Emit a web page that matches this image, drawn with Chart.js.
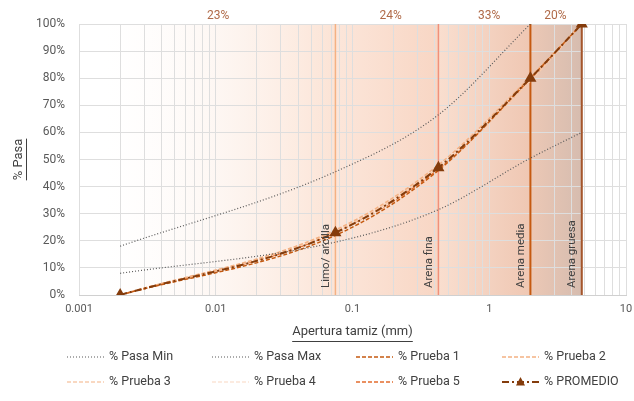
<!DOCTYPE html>
<html>
<head>
<meta charset="utf-8">
<script src="https://cdn.jsdelivr.net/npm/chart.js@4"></script>
<style>
    body { margin: 0; background: #fff; }
    #wrap { width: 634px; height: 401px; }
</style>
</head>
<body>
<div id="wrap"><canvas id="curveChart" width="634" height="401"></canvas></div>
<script>
// sieve openings (mm) and % passing
const sizes = [0.002, 0.075, 0.425, 2, 4.75];
const pasaMin = [8, 19.5, 31.5, 50.5, 60];
const pasaMax = [18, 45.5, 66.5, 100, null];
const prueba1 = [0, 22, 46, 80, 100];
const prueba2 = [0, 24, 48, 80.5, 100];
const prueba3 = [0, 23.5, 47, 79, 100];
const prueba4 = [0, 22.5, 47.5, 80, 100];
const prueba5 = [0, 23, 46.5, 79.5, 100];
const promedio = [0, 23, 47, 80, 100];

// soil fraction limits
const bandEdges = [0.075, 0.425, 2, 4.75];
const bandNames = ["Limo/ arcilla", "Arena fina", "Arena media", "Arena gruesa"];
const bandColors = ["#f4b183", "#f0907a", "#c55a11", "#a4552b"];
const bandShares = ["23%", "24%", "33%", "20%"];
const shareAt = [0.0104, 0.19, 1.0, 3.05];
const xTickLabels = [0.001, 0.01, 0.1, 1, 10];

const FONT = "Roboto, 'DejaVu Sans', sans-serif";

function toPoints(arr) {
    return sizes.map((s, i) => ({ x: s, y: arr[i] })).filter((p) => p.y !== null);
}

function curve(label, values, color, dash, width) {
    return {
        label: label,
        data: toPoints(values),
        borderColor: color,
        backgroundColor: color,
        borderDash: dash,
        borderWidth: width,
        pointRadius: 0,
        cubicInterpolationMode: "monotone",
        order: 1,
    };
}

const datasets = [
    curve("% Pasa Min", pasaMin, "#595959", [1, 2], 1.2),
    curve("% Pasa Max", pasaMax, "#595959", [1, 2], 1.2),
    curve("% Prueba 1", prueba1, "#c55a11", [4, 2], 1.5),
    curve("% Prueba 2", prueba2, "#f4b183", [4, 2], 1.5),
    curve("% Prueba 3", prueba3, "#f8cbad", [4, 2], 1.5),
    curve("% Prueba 4", prueba4, "#fbe5d6", [4, 2], 1.5),
    curve("% Prueba 5", prueba5, "#e46c2e", [4, 2], 1.5),
];
const avg = curve("% PROMEDIO", promedio, "#843c0c", [7, 3, 2, 3], 2);
avg.pointStyle = "triangle";
avg.pointRadius = 5;
avg.order = 0;
datasets.push(avg);

const legendCount = datasets.length;

bandEdges.forEach((edge, i) => {
    datasets.push({
        label: bandNames[i],
        data: [{ x: edge, y: 0 }, { x: edge, y: 100 }],
        borderColor: bandColors[i],
        borderWidth: i < 2 ? 1.5 : 2,
        pointRadius: 0,
        order: 10,
    });
});

// shaded background per fraction
const bandFill = {
    id: "bandFill",
    beforeDraw(chart) {
        const { ctx, chartArea } = chart;
        const xs = chart.scales.x;
        const edges = [0.001].concat(bandEdges);
        const stops = [
            ["rgba(255,255,255,0)", "rgb(251,227,213)"],
            ["rgb(252,230,218)", "rgb(248,214,196)"],
            ["rgb(249,222,207)", "rgb(239,199,179)"],
            ["rgb(236,200,181)", "rgb(214,188,175)"],
        ];
        ctx.save();
        for (let i = 0; i < 4; i++) {
            const x0 = xs.getPixelForValue(edges[i]);
            const x1 = xs.getPixelForValue(edges[i + 1]);
            const g = ctx.createLinearGradient(x0, 0, x1, 0);
            g.addColorStop(0, stops[i][0]);
            g.addColorStop(1, stops[i][1]);
            ctx.fillStyle = g;
            ctx.fillRect(x0, chartArea.top, x1 - x0, chartArea.bottom - chartArea.top);
        }
        ctx.restore();
    },
};

// band names, shares, underlines and legend
const annotations = {
    id: "annotations",
    afterDraw(chart) {
        const { ctx, chartArea } = chart;
        const xs = chart.scales.x;
        const ys = chart.scales.y;
        ctx.save();

        ctx.font = "11.5px " + FONT;
        ctx.fillStyle = "#404040";
        ctx.textAlign = "left";
        ctx.textBaseline = "bottom";
        bandEdges.forEach((edge, i) => {
            const px = xs.getPixelForValue(edge);
            ctx.save();
            ctx.translate(px - 4, chartArea.bottom - 7);
            ctx.rotate(-Math.PI / 2);
            ctx.fillText(bandNames[i], 0, 0);
            ctx.restore();
        });

        ctx.font = "12px " + FONT;
        ctx.fillStyle = "#b06a48";
        ctx.textAlign = "center";
        ctx.textBaseline = "middle";
        bandShares.forEach((txt, i) => {
            ctx.fillText(txt, xs.getPixelForValue(shareAt[i]), 16);
        });

        // underline axis titles
        ctx.strokeStyle = "#404040";
        ctx.lineWidth = 1;
        ctx.font = "13px " + FONT;
        const wx = ctx.measureText(xs.options.title.text).width;
        const cx = (chartArea.left + chartArea.right) / 2;
        ctx.beginPath();
        ctx.moveTo(cx - wx / 2, 341.5);
        ctx.lineTo(cx + wx / 2, 341.5);
        const wy = ctx.measureText(ys.options.title.text).width;
        const cy = (chartArea.top + chartArea.bottom) / 2;
        ctx.moveTo(26.5, cy - wy / 2);
        ctx.lineTo(26.5, cy + wy / 2);
        ctx.stroke();

        // legend grid
        const colX = [67, 212, 356, 502];
        const rowY = [357, 382];
        ctx.font = "12.5px " + FONT;
        ctx.textAlign = "left";
        ctx.textBaseline = "middle";
        for (let i = 0; i < legendCount; i++) {
            const ds = chart.data.datasets[i];
            const x = colX[i % 4];
            const y = rowY[Math.floor(i / 4)];
            ctx.save();
            ctx.strokeStyle = ds.borderColor;
            ctx.lineWidth = ds.borderWidth;
            ctx.setLineDash(ds.borderDash || []);
            ctx.beginPath();
            ctx.moveTo(x, y);
            ctx.lineTo(x + 37, y);
            ctx.stroke();
            ctx.restore();
            if (ds.pointStyle === "triangle") {
                ctx.fillStyle = ds.borderColor;
                ctx.beginPath();
                ctx.moveTo(x + 18.5, y - 5);
                ctx.lineTo(x + 23, y + 3.5);
                ctx.lineTo(x + 14, y + 3.5);
                ctx.closePath();
                ctx.fill();
            }
            ctx.fillStyle = "#404040";
            ctx.fillText(ds.label, x + 42, y);
        }
        ctx.restore();
    },
};

function allLogTicks() {
    const out = [];
    for (let e = -3; e <= 0; e++) {
        for (let m = 1; m <= 9; m++) out.push({ value: Number((m * Math.pow(10, e)).toPrecision(3)) });
    }
    out.push({ value: 10 });
    return out;
}

new Chart(document.getElementById("curveChart"), {
    type: "line",
    data: { datasets: datasets },
    plugins: [bandFill, annotations],
    options: {
        responsive: false,
        animation: false,
        layout: { padding: { top: 24, left: 0, right: 0, bottom: 58 } },
        plugins: {
            legend: { display: false },
            tooltip: { enabled: false },
        },
        scales: {
            x: {
                type: "logarithmic",
                min: 0.001,
                max: 10,
                afterBuildTicks: (scale) => { scale.ticks = allLogTicks(); },
                afterFit: (scale) => {
                    scale.height = 48;
                    scale.paddingRight = 8;
                },
                grid: { color: "#dedede", drawTicks: false },
                border: { color: "#d0d0d0" },
                ticks: {
                    autoSkip: false,
                    maxRotation: 0,
                    padding: 8,
                    color: "#595959",
                    font: { family: FONT, size: 11 },
                    callback: (v) => (xTickLabels.includes(v) ? String(v) : ""),
                },
                title: {
                    display: true,
                    text: "Apertura tamiz (mm)",
                    color: "#404040",
                    font: { family: FONT, size: 13 },
                    padding: { top: 0, bottom: 3 },
                },
            },
            y: {
                min: 0,
                max: 100,
                afterFit: (scale) => { scale.width = 79; },
                grid: { color: "#dedede", drawTicks: false },
                border: { display: false },
                ticks: {
                    stepSize: 10,
                    padding: 14,
                    color: "#595959",
                    font: { family: FONT, size: 12 },
                    callback: (v) => v + "%",
                },
                title: {
                    display: true,
                    text: "% Pasa",
                    color: "#404040",
                    font: { family: FONT, size: 13 },
                    padding: { top: 11 },
                },
            },
        },
    },
});
</script>
</body>
</html>
